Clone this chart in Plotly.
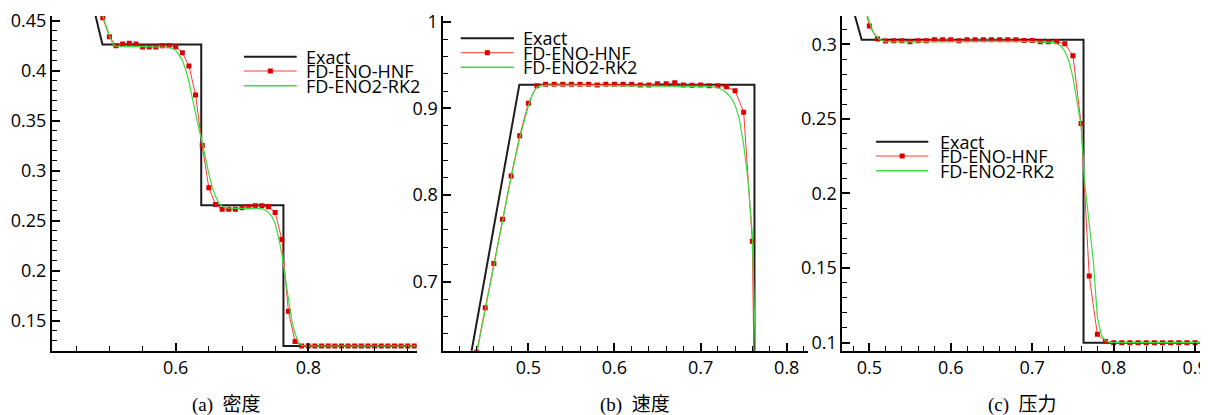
import plotly.graph_objects as go

# page body has an 8px margin: the figure is drawn 8px right/down inside the 1208x415 window
OFF = 8
W, H = 1208 - OFF, 415 - OFF

# ---------------- data: (a) density ----------------
x_a_exact = [0.470, 0.4895, 0.6385, 0.6385, 0.7625, 0.7625, 0.970]
rho_exact = [0.480, 0.4263, 0.4263, 0.2656, 0.2656, 0.125, 0.125]

x_a_hnf = [0.48, 0.49, 0.50, 0.51, 0.52, 0.53, 0.54, 0.55, 0.56, 0.57,
           0.58, 0.59, 0.60, 0.61, 0.62, 0.63, 0.64, 0.65, 0.66, 0.67,
           0.68, 0.69, 0.70, 0.71, 0.72, 0.73, 0.74, 0.75, 0.76, 0.77,
           0.78, 0.79, 0.80, 0.81, 0.82, 0.83, 0.84, 0.85, 0.86, 0.87,
           0.88, 0.89, 0.90, 0.91, 0.92, 0.93, 0.94, 0.95, 0.96]
rho_hnf = [0.478, 0.453, 0.434, 0.425, 0.4267, 0.4274, 0.4267, 0.4237, 0.4237, 0.4237,
           0.425, 0.425, 0.4240, 0.418, 0.4047, 0.3757, 0.3252, 0.2830, 0.2663, 0.2617,
           0.2617, 0.2617, 0.2630, 0.2640, 0.2650, 0.2650, 0.2640, 0.2585, 0.2314, 0.1597,
           0.1295, 0.1250, 0.125, 0.125, 0.125, 0.125, 0.125, 0.125, 0.125, 0.125,
           0.125, 0.125, 0.125, 0.125, 0.125, 0.125, 0.125, 0.125, 0.125]

x_a_rk2 = [0.48, 0.49, 0.50, 0.505, 0.51, 0.52, 0.53, 0.54, 0.55, 0.56, 0.57, 0.58, 0.59, 0.60,
           0.605, 0.61, 0.615, 0.62, 0.625, 0.63, 0.635, 0.64, 0.645, 0.65, 0.655, 0.66, 0.665, 0.67,
           0.68, 0.69, 0.70, 0.71, 0.72, 0.73,
           0.735, 0.74, 0.745, 0.75, 0.755, 0.76, 0.765, 0.77, 0.775, 0.78, 0.785, 0.79, 0.795, 0.80,
           0.85, 0.90, 0.97]
rho_rk2 = [0.480, 0.455, 0.435, 0.427, 0.4245, 0.4242, 0.4242, 0.4242, 0.4242, 0.4242, 0.4242, 0.4242, 0.4235, 0.4205,
           0.416, 0.4107, 0.401, 0.389, 0.373, 0.3557, 0.342, 0.3285, 0.312, 0.297, 0.284, 0.2745, 0.268, 0.2645,
           0.2628, 0.2624, 0.2624, 0.2627, 0.2628, 0.2622,
           0.2608, 0.2585, 0.2545, 0.2474, 0.2340, 0.2174, 0.1940, 0.1707, 0.1507, 0.1374, 0.1290, 0.1255, 0.1250, 0.125,
           0.125, 0.125, 0.125]

# ---------------- data: (b) velocity ----------------
x_b_exact = [0.430, 0.4896, 0.7625, 0.7625, 0.830]
u_exact = [0.597, 0.9274, 0.9274, 0.0, 0.0]

x_b_hnf = [0.43, 0.44, 0.45, 0.46, 0.47, 0.48, 0.49, 0.50, 0.51,
           0.52, 0.53, 0.54, 0.55, 0.56, 0.57, 0.58, 0.59, 0.60, 0.61,
           0.62, 0.63, 0.64, 0.65, 0.66, 0.67, 0.68, 0.69, 0.70, 0.71,
           0.72, 0.73, 0.74, 0.75, 0.76, 0.77, 0.78]
u_hnf = [0.568, 0.619, 0.670, 0.721, 0.772, 0.822, 0.8685, 0.906, 0.926,
         0.9278, 0.9278, 0.9278, 0.9278, 0.9278, 0.9278, 0.9270, 0.9278, 0.9278, 0.9278,
         0.9278, 0.9270, 0.9270, 0.9285, 0.9285, 0.9297, 0.9270, 0.9266, 0.9270, 0.9262,
         0.9262, 0.9250, 0.9204, 0.8955, 0.7466, 0.0, 0.0]

x_b_rk2 = [0.43, 0.44, 0.45, 0.46, 0.47, 0.48, 0.49, 0.50, 0.505, 0.51, 0.515, 0.52,
           0.55, 0.60, 0.65, 0.70, 0.71, 0.72,
           0.725, 0.73, 0.735, 0.74, 0.745, 0.75, 0.755, 0.76, 0.765, 0.77, 0.78]
u_rk2 = [0.566, 0.617, 0.668, 0.719, 0.770, 0.820, 0.866, 0.903, 0.917, 0.9245, 0.9262, 0.9265,
         0.9265, 0.9262, 0.9262, 0.9258, 0.9252, 0.9238,
         0.9215, 0.9180, 0.9128, 0.9040, 0.8870, 0.8580, 0.8170, 0.7550, 0.5500, 0.15, 0.0]

# ---------------- data: (c) pressure ----------------
x_c_exact = [0.470, 0.4906, 0.7630, 0.7630, 0.920]
p_exact = [0.343, 0.3031, 0.3031, 0.1, 0.1]

x_c_hnf = [0.49, 0.50, 0.51,
           0.52, 0.53, 0.54, 0.55, 0.56, 0.57, 0.58, 0.59, 0.60, 0.61,
           0.62, 0.63, 0.64, 0.65, 0.66, 0.67, 0.68, 0.69, 0.70, 0.71,
           0.72, 0.73, 0.74, 0.75, 0.76, 0.77, 0.78, 0.79,
           0.80, 0.81, 0.82, 0.83, 0.84, 0.85, 0.86, 0.87, 0.88, 0.89, 0.90, 0.91]
p_hnf = [0.335, 0.3123, 0.3036,
         0.3022, 0.3024, 0.3024, 0.3017, 0.3024, 0.3024, 0.3031, 0.3031, 0.3031, 0.3024,
         0.3031, 0.3031, 0.3031, 0.3031, 0.3031, 0.3031, 0.3031, 0.3026, 0.3026, 0.3017,
         0.3017, 0.3017, 0.3004, 0.2924, 0.2470, 0.1447, 0.1056, 0.1007,
         0.1, 0.1, 0.1, 0.1, 0.1, 0.1, 0.1, 0.1, 0.1, 0.1, 0.1, 0.1]

x_c_rk2 = [0.48, 0.49, 0.495, 0.50, 0.505, 0.51, 0.515, 0.52,
           0.55, 0.60, 0.65, 0.70, 0.72,
           0.725, 0.73, 0.735, 0.74, 0.745, 0.75, 0.755, 0.76, 0.765, 0.77, 0.775, 0.78, 0.785, 0.79, 0.795, 0.80,
           0.85, 0.92]
p_rk2 = [0.355, 0.335, 0.324, 0.315, 0.308, 0.3045, 0.3025, 0.3018,
         0.3017, 0.3020, 0.3020, 0.3018, 0.3015,
         0.3011, 0.3005, 0.2990, 0.2955, 0.2890, 0.2780, 0.2620, 0.2455, 0.2045, 0.1810, 0.1550, 0.1170, 0.1050, 0.1012, 0.1003, 0.1000,
         0.1000, 0.1000]

# ---------------- labels ----------------
series_names = ["Exact", "FD-ENO-HNF", "FD-ENO2-RK2"]
captions = ["(a)\u00a0\u00a0密度", "(b)\u00a0\u00a0速度", "(c)\u00a0\u00a0压力"]

xa_ticks = [0.6, 0.8]
xa_text = ["0.6", "0.8"]
ya_ticks = [0.15, 0.2, 0.25, 0.3, 0.35, 0.4, 0.45]
ya_text = ["0.15", "0.2", "0.25", "0.3", "0.35", "0.4", "0.45"]
xb_ticks = [0.5, 0.6, 0.7, 0.8]
xb_text = ["0.5", "0.6", "0.7", "0.8"]
yb_ticks = [0.7, 0.8, 0.9, 1.0]
yb_text = ["0.7", "0.8", "0.9", "1"]
xc_ticks = [0.5, 0.6, 0.7, 0.8, 0.9]
xc_text = ["0.5", "0.6", "0.7", "0.8", "0.9"]
yc_ticks = [0.1, 0.15, 0.2, 0.25, 0.3]
yc_text = ["0.1", "0.15", "0.2", "0.25", "0.3"]

# ---------------- styles ----------------
C_EXACT = "#1c1c1c"
C_RED_LINE = "#ff3a3a"
C_RED_MARK = "#dd0000"
C_GREEN = "#3ddc3d"
FONT = "Open Sans, Noto Sans, sans-serif"
CAP_FONT = "Liberation Serif, Noto Sans CJK SC, serif"

fig = go.Figure()

panels = [
    ("x", "y", x_a_exact, rho_exact, x_a_hnf, rho_hnf, x_a_rk2, rho_rk2),
    ("x2", "y2", x_b_exact, u_exact, x_b_hnf, u_hnf, x_b_rk2, u_rk2),
    ("x3", "y3", x_c_exact, p_exact, x_c_hnf, p_hnf, x_c_rk2, p_rk2),
]
for xr, yr, xe, ye, xh, yh, xg, yg in panels:
    fig.add_trace(go.Scatter(x=xe, y=ye, mode="lines", xaxis=xr, yaxis=yr,
                             line=dict(color=C_EXACT, width=2), name=series_names[0], showlegend=False))
    fig.add_trace(go.Scatter(x=xh, y=yh, mode="lines+markers", xaxis=xr, yaxis=yr,
                             line=dict(color=C_RED_LINE, width=1),
                             marker=dict(symbol="square", size=5, color=C_RED_MARK, line=dict(width=0)),
                             name=series_names[1], showlegend=False))
    fig.add_trace(go.Scatter(x=xg, y=yg, mode="lines", xaxis=xr, yaxis=yr,
                             line=dict(color=C_GREEN, width=1.2), name=series_names[2], showlegend=False))


def px_x(p):
    return (p - OFF) / W


def px_y(p):
    return 1 - (p - OFF) / H


y_dom = [px_y(350.7), px_y(16)]


def axis(dom, rng, tv, tt, minor_dtick, anchor):
    return dict(domain=dom, range=rng, anchor=anchor, automargin=False,
                tickmode="array", tickvals=tv, ticktext=tt,
                showgrid=False, zeroline=False, showline=True, linecolor="black", linewidth=2,
                ticks="inside", ticklen=8, tickwidth=1.5, tickcolor="black",
                tickfont=dict(family=FONT, size=18, color="black"),
                minor=dict(tickmode="linear", tick0=0, dtick=minor_dtick,
                           ticks="inside", ticklen=4.5, tickwidth=1, tickcolor="black", showgrid=False))


fig.update_layout(
    width=W, height=H, margin=dict(l=0, r=0, t=0, b=0, autoexpand=False),
    paper_bgcolor="white", plot_bgcolor="white", showlegend=False,
    xaxis=axis([px_x(52), px_x(416.7)], [0.4134, 0.9635], xa_ticks, xa_text, 0.05, "y"),
    yaxis=axis(y_dom, [0.1203, 0.4547], ya_ticks, ya_text, 0.01, "x"),
    xaxis2=axis([px_x(443.3), px_x(808.3)], [0.4013, 0.825], xb_ticks, xb_text, 0.02, "y2"),
    yaxis2=axis(y_dom, [0.6204, 1.0066], yb_ticks, yb_text, 0.02, "x2"),
    xaxis3=axis([px_x(842.3), px_x(1207.3)], [0.4668, 0.915], xc_ticks, xc_text, 0.02, "y3"),
    yaxis3=axis(y_dom, [0.0946, 0.319], yc_ticks, yc_text, 0.01, "x3"),
)

# manual legends (line sample start/end, text start, row y positions in window px)
legend_pos = [
    (244, 296.7, 304, [56.7, 71, 85.7]),
    (460.7, 514, 520.7, [38.3, 52.7, 67.3]),
    (876, 928.3, 937.7, [141.7, 156, 170.7]),
]
leg_colors = [(C_EXACT, 2), (C_RED_LINE, 1), (C_GREEN, 1.5)]
for x0, x1, xt, rows in legend_pos:
    for i, ry in enumerate(rows):
        col, lw = leg_colors[i]
        fig.add_shape(type="line", xref="paper", yref="paper",
                      x0=px_x(x0), x1=px_x(x1), y0=px_y(ry), y1=px_y(ry),
                      line=dict(color=col, width=lw))
        if i == 1:
            xm = (x0 + x1) / 2
            fig.add_shape(type="rect", xref="paper", yref="paper",
                          x0=px_x(xm - 2.5), x1=px_x(xm + 2.5), y0=px_y(ry + 2.5), y1=px_y(ry - 2.5),
                          line=dict(width=0), fillcolor=C_RED_MARK)
        fig.add_annotation(x=px_x(xt), y=px_y(ry), xref="paper", yref="paper",
                           text=series_names[i], showarrow=False, xanchor="left", yanchor="middle",
                           font=dict(family=FONT, size=18, color="black"))

for cx, cap in zip([226.5, 635, 1022.5], captions):
    fig.add_annotation(x=px_x(cx), y=px_y(405), xref="paper", yref="paper",
                       text=cap, showarrow=False, xanchor="center", yanchor="middle",
                       font=dict(family=CAP_FONT, size=19, color="black"))

fig.write_html("out.html")
